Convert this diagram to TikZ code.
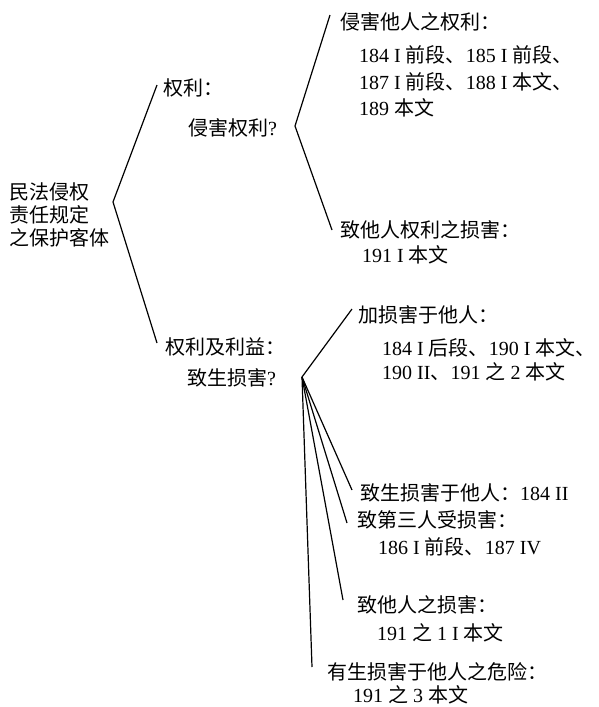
\documentclass[tikz,border=0pt]{standalone}
\usepackage{fontspec}
\setmainfont{Liberation Serif}
\newfontfamily\cjk{Noto Sans CJK SC}
\newcommand{\zh}[1]{{\cjk #1}}
\begin{document}
\begin{tikzpicture}[x=1pt,y=-1pt,
  lbl/.style={anchor=west, inner sep=0pt, font=\fontsize{20}{22.7}\selectfont},
  br/.style={line width=1.2pt, line join=miter}]
\useasboundingbox (0,0) rectangle (598,707);
% root
\node[lbl, align=left] (root) at (9,215) {\zh{民法侵权}\\\zh{责任规定}\\\zh{之保护客体}};
% first level
\node[lbl] (quanli) at (163,88) {\zh{权利：}};
\node[lbl] (qinhai) at (188,128) {\zh{侵害权利}?};
\node[lbl] (quanliyi) at (165,347) {\zh{权利及利益：}};
\node[lbl] (zhisheng) at (187,378) {\zh{致生损害}?};
% second level, upper
\node[lbl] (t1) at (340,22) {\zh{侵害他人之权利：}};
\node[lbl] (t1a) at (359,55) {184 I \zh{前段、}185 I \zh{前段、}};
\node[lbl] (t1b) at (359,82) {187 I \zh{前段、}188 I \zh{本文、}};
\node[lbl] (t1c) at (359,108) {189 \zh{本文}};
\node[lbl] (t2) at (340,230) {\zh{致他人权利之损害：}};
\node[lbl] (t2a) at (362,255) {191 I \zh{本文}};
% second level, lower
\node[lbl] (u1) at (358,315) {\zh{加损害于他人：}};
\node[lbl] (u1a) at (382,348) {184 I \zh{后段、}190 I \zh{本文、}};
\node[lbl] (u1b) at (382,372) {190 II\zh{、}191 \zh{之} 2 \zh{本文}};
\node[lbl] (u2) at (360,493) {\zh{致生损害于他人：}184 II};
\node[lbl] (u3) at (357,520) {\zh{致第三人受损害：}};
\node[lbl] (u3a) at (378,547) {186 I \zh{前段、}187 IV};
\node[lbl] (u4) at (357,605) {\zh{致他人之损害：}};
\node[lbl] (u4a) at (377,633) {191 \zh{之} 1 I \zh{本文}};
\node[lbl] (u5) at (327,672) {\zh{有生损害于他人之危险：}};
\node[lbl] (u5a) at (353,695) {191 \zh{之} 3 \zh{本文}};
% bracket coordinates
\coordinate (A1) at (113,202);
\coordinate (A1t) at (157,85);
\coordinate (A1b) at (157,343);
\coordinate (A2) at (295,126);
\coordinate (A2t) at (330,15);
\coordinate (A2b) at (332,230);
\coordinate (A3) at (302,377);
\coordinate (A3a) at (352,309);
\coordinate (A3b) at (352,490);
\coordinate (A3c) at (347,523);
\coordinate (A3d) at (343,600);
\coordinate (A3e) at (312,667);
% brackets
\draw[br] (A1t) -- (A1) -- (A1b);
\draw[br] (A2t) -- (A2) -- (A2b);
\draw[br] (A3a) -- (A3) -- (A3b);
\draw[br] (A3) -- (A3c);
\draw[br] (A3) -- (A3d);
\draw[br] (A3) -- (A3e);
\end{tikzpicture}
\end{document}
